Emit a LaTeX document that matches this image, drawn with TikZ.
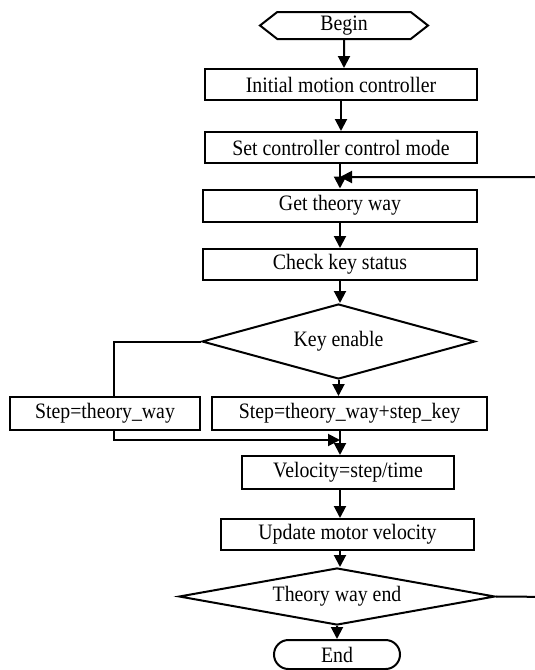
\documentclass[tikz,border=0pt]{standalone}
\usepackage{fontspec}
\setmainfont{Liberation Serif}[FakeStretch=0.9]
\usetikzlibrary{arrows.meta,positioning,calc,shapes.geometric,shapes.symbols,shapes.misc}

\begin{document}
\begin{tikzpicture}[x=1pt, y=-1pt,
    box/.style={draw, line width=2pt, inner sep=0pt, minimum height=31pt, font=\fontsize{22}{24}\selectfont},
    dec/.style={draw, diamond, line width=2pt, inner sep=0pt, font=\fontsize{22}{24}\selectfont},
    arr/.style={-{Triangle[length=12pt,width=12pt]}, line width=2pt}
]
\useasboundingbox (0,0) rectangle (535,670);

\node[box, signal, signal to=west and east, signal pointer angle=76, minimum width=168pt, minimum height=27pt] (begin) at (344,25.5) {Begin};
\node[box, minimum width=272pt] (init) at (341,84.5) {Initial motion controller};
\node[box, minimum width=272pt] (mode) at (341,147.5) {Set controller control mode};
\node[box, minimum width=274pt, minimum height=32pt] (way) at (340,205.5) {Get theory way};
\node[box, minimum width=274pt] (check) at (340,264.5) {Check key status};
\node[dec, aspect=3.64, minimum width=273pt, minimum height=75pt] (key) at (338.5,341.5) {Key enable};

\node[box, minimum width=190pt, minimum height=33pt] (step1) at (105,413.5) {Step=theory\_way};
\node[box, minimum width=275pt, minimum height=33pt] (step2) at (349.5,413.5) {Step=theory\_way+step\_key};

\node[box, minimum width=212pt, minimum height=33pt] (vel) at (348,472.5) {Velocity=step/time};
\node[box, minimum width=253pt] (upd) at (347.5,534.5) {Update motor velocity};
\node[dec, aspect=5.5, minimum width=316pt, minimum height=57pt] (tend) at (337,596.5) {Theory way end};
\node[box, rounded rectangle, minimum width=126pt, minimum height=29pt] (end) at (337,654.5) {End};

\coordinate (join) at (340,177);
\coordinate (merge) at (340,440);
\coordinate (back) at (560,597);

\draw[arr] (begin) -- (begin |- init.north);
\draw[arr] (init) -- (init |- mode.north);
\draw[arr] (mode.south -| join) -- (join |- way.north);
\draw[arr] (way) -- (check);
\draw[arr] (check) -- (check |- key.north);
\draw[arr] (key.south) -- (key.south |- step2.north);
\draw[line width=2pt] (key.west) -| ([xshift=9pt]step1.north);
\draw[arr] ([xshift=9pt]step1.south) |- (merge);
\draw[arr] (merge |- step2.south) -- (merge |- vel.north);
\draw[arr] (merge |- vel.south) -- (merge |- upd.north);
\draw[arr] (merge |- upd.south) -- (merge |- tend.north);
\draw[arr] (tend.south) -- (end);
\draw[arr] (tend.east) -- (back) |- (join);
\end{tikzpicture}
\end{document}
